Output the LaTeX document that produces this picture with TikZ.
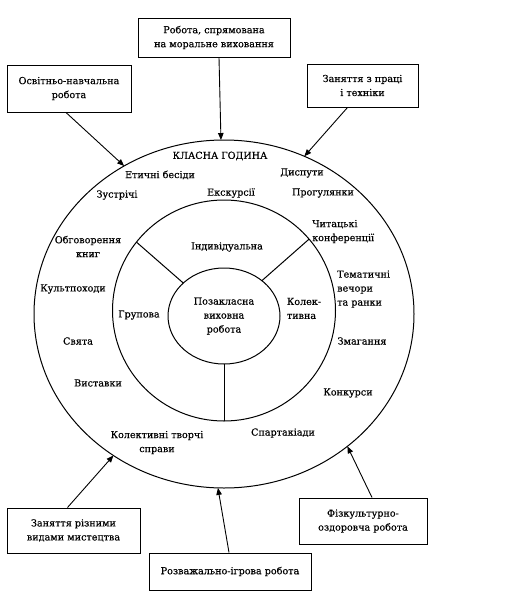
\documentclass[tikz,border=0pt]{standalone}
\usepackage{fontspec}
\setmainfont[FakeBold=0.35]{DejaVu Serif}
\usetikzlibrary{arrows.meta,shapes.geometric}
\begin{document}
\begin{tikzpicture}[x=1pt,y=-1pt,
  lbl/.style={font=\fontsize{9.6}{14}\selectfont, inner sep=0pt},
  box/.style={draw, line width=1pt, align=center, font=\fontsize{9.6}{14}\selectfont, inner sep=0pt},
  ring/.style={draw, ellipse, line width=1pt, inner sep=0pt, outer sep=0pt},
  arr/.style={line width=0.9pt, -{Triangle[length=7pt,width=5.5pt]}},
  div/.style={line width=1pt}]
\useasboundingbox (0,0) rectangle (508,592);
\fill[white] (0,0) rectangle (508,592);
% rings
\node[ring, minimum width=380pt, minimum height=348pt] (outer) at (224,314) {};
\node[ring, minimum width=223pt, minimum height=221pt] (mid) at (224,310.5) {};
\node[ring, minimum width=112pt, minimum height=96pt, align=center, font=\fontsize{9.6}{14}\selectfont] (inn) at (224,316) {Позакласна\\виховна\\робота};
\draw[div] (mid.142) -- (inn.141);
\draw[div] (mid.40) -- (inn.43);
\draw[div] (mid.270) -- (inn.270);
% boxes
\node[box, minimum width=152pt, minimum height=39pt] (top) at (214,37.5) {Робота, спрямована\\на моральне виховання};
\node[box, minimum width=124pt, minimum height=47pt] (tl) at (69,88.5) {Освітньо-навчальна\\робота};
\node[box, minimum width=111pt, minimum height=43pt] (tr) at (362.5,85.5) {Заняття з праці\\і техніки};
\node[box, minimum width=133pt, minimum height=45pt] (bl) at (73.5,530.5) {Заняття різними\\видами мистецтва};
\node[box, minimum width=162pt, minimum height=37pt] (bc) at (230,571.5) {Розважально-ігрова робота};
\node[box, minimum width=128pt, minimum height=46pt] (br) at (363,521) {Фізкультурно-\\оздоровча робота};
% arrows
\draw[arr] ([xshift=5pt]top.south) -- (outer.91.6);
\draw[arr] ([xshift=-3pt]tl.south) -- (outer.124.5);
\draw[arr] ([xshift=-15pt]tr.south) -- (outer.63.6);
\draw[arr] ([xshift=-6pt]bl.north) -- (outer.232.8);
\draw[arr] ([xshift=-1pt]bc.north) -- (outer.268.5);
\draw[arr] ([xshift=9pt]br.north) -- (outer.-47.4);
% labels outer ring
\node[lbl] (klas) at (220,156) {КЛАСНА ГОДИНА};
\node[lbl] (etb) at (160,175) {Етичні бесіди};
\node[lbl] (disp) at (302,173) {Диспути};
\node[lbl] (zus) at (117,195) {Зустрічі};
\node[lbl] (eksk) at (231,193) {Екскурсії};
\node[lbl] (prog) at (323,193) {Прогулянки};
\node[lbl, align=center] (obg) at (88,246.5) {Обговорення\\книг};
\node[lbl, align=left, anchor=west] (chyt) at (312,231.5) {Читацькі\\конференції};
\node[lbl, align=left, anchor=west] (tem) at (337,289) {Тематичні\\вечори\\та ранки};
\node[lbl] (kult) at (73,289) {Культпоходи};
\node[lbl] (svy) at (78,341) {Свята};
\node[lbl] (zmag) at (362,341) {Змагання};
\node[lbl] (vyst) at (98,383) {Виставки};
\node[lbl] (konk) at (348,393) {Конкурси};
\node[lbl, align=center] (ktv) at (157,442.5) {Колективні творчі\\справи};
\node[lbl] (spart) at (283,433) {Спартакіади};
% labels mid ring
\node[lbl] (ind) at (227,247) {Індивідуальна};
\node[lbl] (grup) at (139,315) {Групова};
\node[lbl, align=left] (kol) at (304,308.5) {Колек-\\тивна};
\end{tikzpicture}
\end{document}
